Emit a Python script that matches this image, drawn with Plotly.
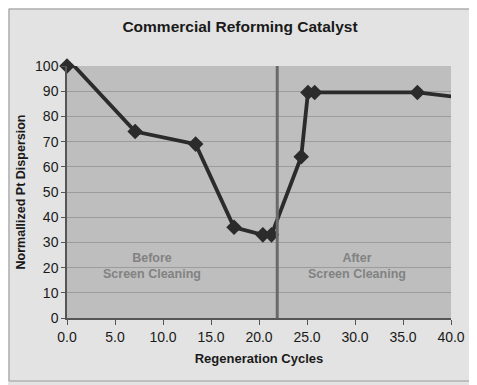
import plotly.graph_objects as go

cycles = [0.0, 0.5, 7.1, 13.4, 17.4, 20.4, 21.3, 24.4, 25.1, 25.8, 36.5, 40.8]
dispersion = [100, 101, 74, 69, 36, 33, 33, 64, 89.5, 89.5, 89.5, 87.6]
marker_shown = [True] * 11 + [False]
cleaning_cycle = 21.9
x_ticks = [0, 5, 10, 15, 20, 25, 30, 35, 40]
y_ticks = [0, 10, 20, 30, 40, 50, 60, 70, 80, 90, 100]

fig = go.Figure()
fig.add_trace(go.Scatter(
    x=cycles, y=dispersion, mode="lines",
    line=dict(color="#2b2b2b", width=3.8),
    hoverinfo="skip", showlegend=False,
))
fig.add_trace(go.Scatter(
    x=[c for c, m in zip(cycles, marker_shown) if m],
    y=[d for d, m in zip(dispersion, marker_shown) if m],
    mode="markers",
    marker=dict(symbol="diamond", size=12, color="#2b2b2b"),
    cliponaxis=False, showlegend=False,
))
fig.add_shape(type="line", x0=cleaning_cycle, x1=cleaning_cycle, y0=0, y1=1,
              xref="x", yref="y domain", line=dict(color="#6a6a6a", width=3))

for x, txt in [(8.9, "<b>Before<br>Screen Cleaning</b>"), (30.2, "<b>After<br>Screen Cleaning</b>")]:
    fig.add_annotation(x=x, y=20.6, xref="x", yref="y", text=txt, showarrow=False,
                       font=dict(family="Liberation Sans, Arial", size=12.5, color="#828282"))

fig.add_shape(type="rect", xref="paper", yref="paper", x0=-0.151, x1=1.057,
              y0=-0.25, y1=1.226, line=dict(color="#9a9a9a", width=1), layer="below")

fig.update_layout(
    width=477, height=385,
    margin=dict(l=59, r=34, t=58, b=75),
    paper_bgcolor="#e3e3e3", plot_bgcolor="#bebebe",
    font=dict(family="Liberation Sans, Arial", color="#1a1a1a"),
    title=dict(text="<b>Commercial Reforming Catalyst</b>", x=(240 - 8) / 477, xanchor="center",
               y=1 - 19/385, yanchor="middle", font=dict(size=15.5, color="#1a1a1a")),
    xaxis=dict(range=[0, 40], tickvals=x_ticks, ticktext=[f"{v:.1f}" for v in x_ticks],
               showgrid=False, zeroline=False, showline=True, linecolor="#555555", linewidth=1.5,
               ticks="outside", ticklen=5, tickcolor="#555555", tickfont=dict(size=14),
               title=dict(text="<b>Regeneration Cycles</b>", font=dict(size=13), standoff=10)),
    yaxis=dict(range=[0, 100], tickvals=y_ticks, showgrid=True, gridcolor="#9c9c9c", gridwidth=1,
               zeroline=False, showline=True, linecolor="#555555", linewidth=1.5,
               ticks="outside", ticklen=4, tickcolor="#555555", tickfont=dict(size=14),
               title=dict(text="<b>Normallized Pt Dispersion</b>", font=dict(size=12.5), standoff=7)),
)
fig.write_html("out.html")
